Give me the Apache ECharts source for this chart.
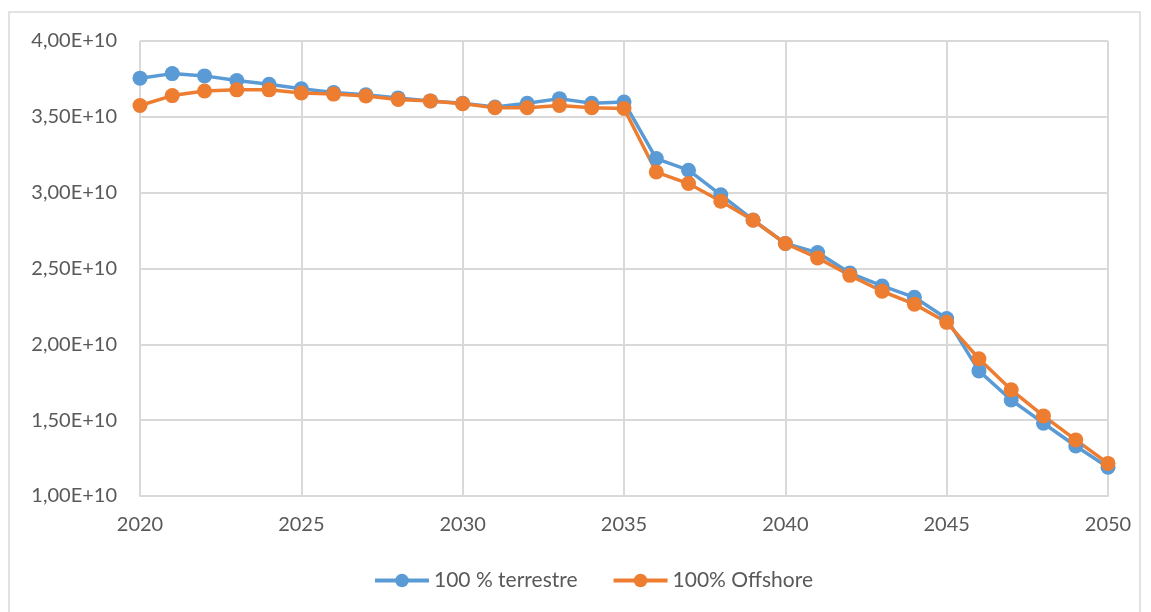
<!DOCTYPE html>
<html>
<head>
<meta charset="utf-8">
<script src="https://cdn.jsdelivr.net/npm/echarts@6/dist/echarts.min.js"></script>
<style>
html,body{margin:0;padding:0;background:#fff;}
#chart{width:1151px;height:612px;}
</style>
</head>
<body>
<div id="chart"></div>
<script>
const years = [2020,2021,2022,2023,2024,2025,2026,2027,2028,2029,2030,2031,2032,2033,2034,2035,2036,2037,2038,2039,2040,2041,2042,2043,2044,2045,2046,2047,2048,2049,2050];
const terrestre = [3.755,3.785,3.77,3.74,3.715,3.685,3.66,3.645,3.625,3.605,3.59,3.565,3.59,3.62,3.59,3.597,3.225,3.148,2.986,2.82,2.665,2.605,2.47,2.385,2.31,2.17,1.825,1.633,1.48,1.33,1.19];
const offshore = [3.575,3.64,3.67,3.678,3.678,3.657,3.65,3.637,3.615,3.605,3.587,3.56,3.56,3.575,3.56,3.555,3.136,3.06,2.943,2.818,2.665,2.57,2.455,2.35,2.265,2.145,1.905,1.70,1.528,1.37,1.215];
const seriesNames = ['100 % terrestre','100% Offshore'];
const SCALE = 1e10;

const chart = echarts.init(document.getElementById('chart'));
const toPairs = arr => years.map((y,i)=>[y, arr[i]*SCALE]);
const grey = '#d9d9d9';
const font = 'Lato, "Open Sans", sans-serif';
chart.setOption({
  animation:false,
  graphic:[{type:'rect',shape:{x:9,y:12,width:1131,height:640},style:{fill:'none',stroke:grey,lineWidth:1.5},silent:true}],
  grid:{left:140,right:43,top:41,bottom:116},
  legend:{
    left:368, top:565,
    itemWidth:54, itemHeight:17, itemGap:34,
    lineStyle:{width:4},
    textStyle:{color:'#595959',fontSize:21,fontFamily:font},
    data:seriesNames
  },
  xAxis:{
    type:'value', min:2020, max:2050, interval:5,
    axisLine:{show:true,lineStyle:{color:grey,width:2}},
    axisTick:{show:false},
    splitLine:{show:true,lineStyle:{color:grey,width:2}},
    axisLabel:{color:'#595959',fontSize:20,fontFamily:font,margin:19,formatter:v=>String(v)}
  },
  yAxis:{
    type:'value', min:1e10, max:4e10, interval:0.5e10,
    axisLine:{show:false}, axisTick:{show:false},
    splitLine:{show:true,lineStyle:{color:grey,width:2}},
    axisLabel:{color:'#595959',fontSize:20,fontFamily:font,margin:23,
      formatter:v=>(v/SCALE).toFixed(2).replace('.',',')+'E+10'}
  },
  series:[
    {name:seriesNames[0],type:'line',data:toPairs(terrestre),symbol:'circle',symbolSize:15,
     lineStyle:{width:3.5,color:'#5B9BD5'},itemStyle:{color:'#5B9BD5'}},
    {name:seriesNames[1],type:'line',data:toPairs(offshore),symbol:'circle',symbolSize:15,
     lineStyle:{width:3.5,color:'#ED7D31'},itemStyle:{color:'#ED7D31'}}
  ]
});
</script>
</body>
</html>
